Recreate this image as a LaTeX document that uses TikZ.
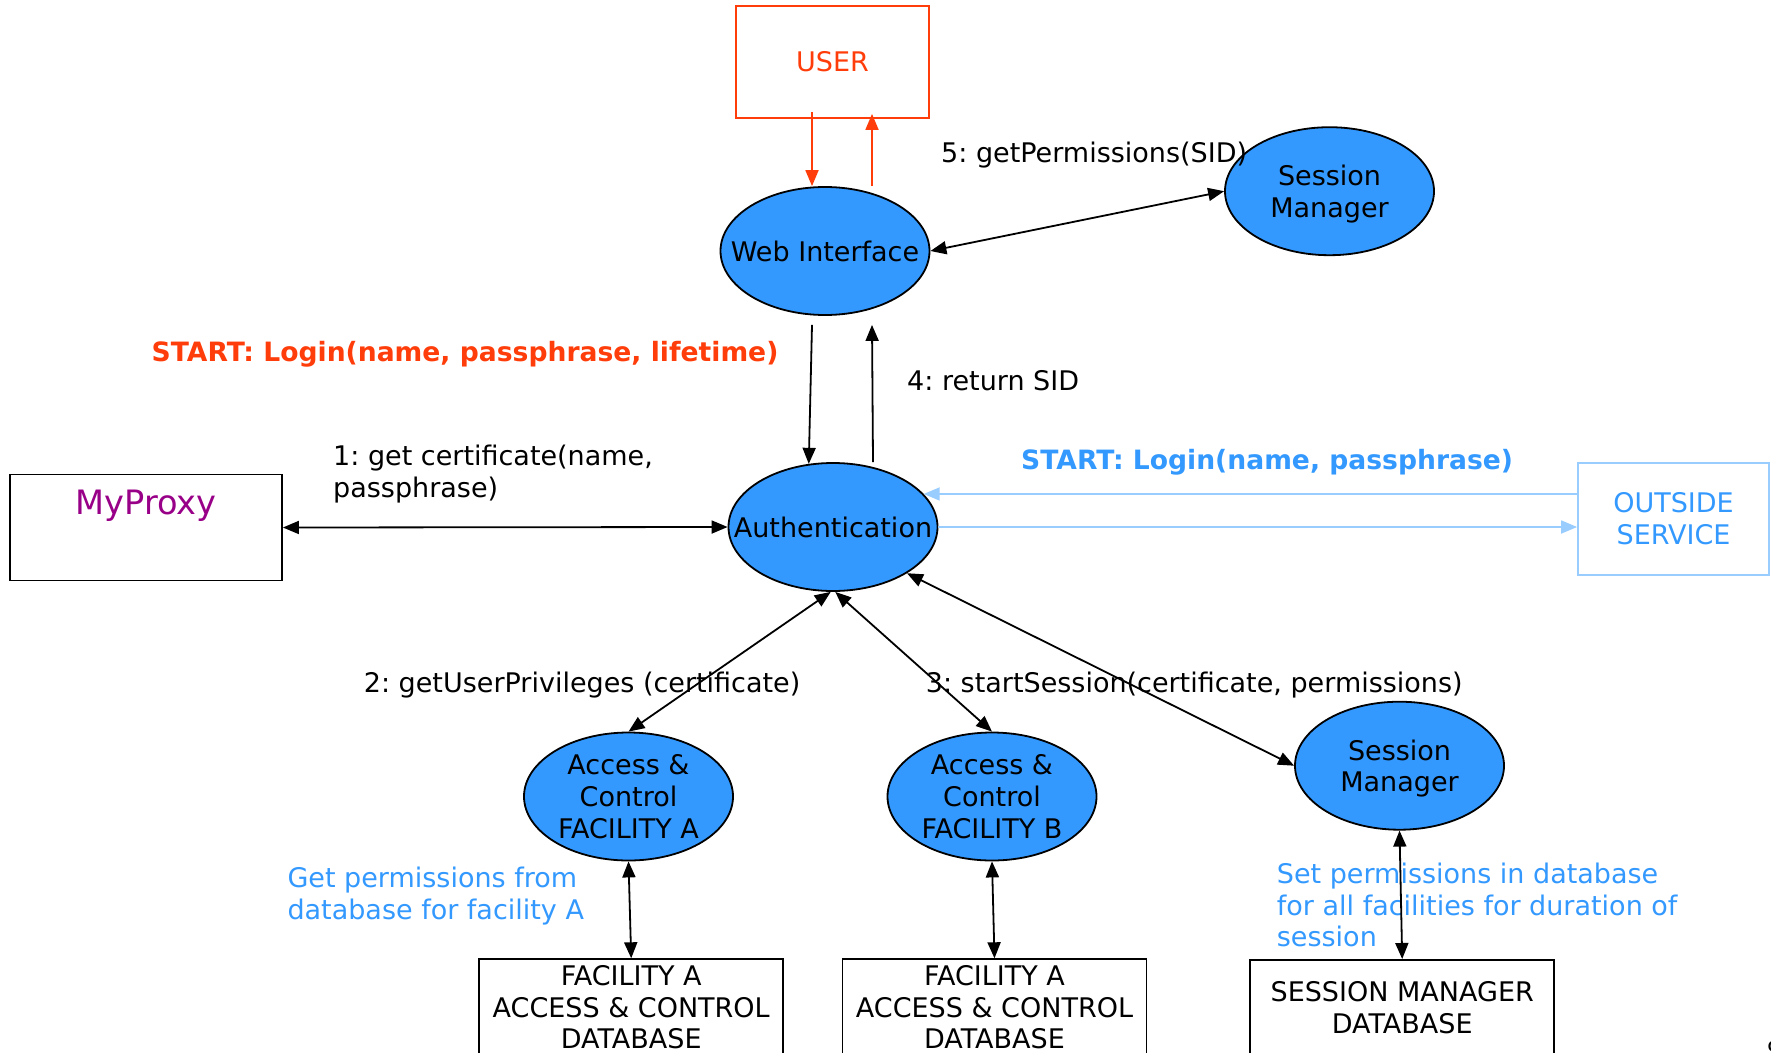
\documentclass[tikz,border=0pt]{standalone}
\usepackage{fontspec}
\setmainfont{DejaVu Sans}
\usetikzlibrary{arrows.meta,shapes.geometric}
\definecolor{nodeblue}{RGB}{51,153,255}
\definecolor{userred}{RGB}{255,61,10}
\definecolor{proxypurple}{RGB}{153,0,136}
\definecolor{paleblue}{RGB}{153,204,255}
\definecolor{noteblue}{RGB}{51,153,255}
\frenchspacing
\tikzset{
  basefont/.style={font=\fontsize{27}{31.7}\selectfont},
  boldfont/.style={font=\fontsize{26.6}{31.7}\selectfont\bfseries},
  proc/.style={ellipse, draw=black, line width=1.8pt, fill=nodeblue,
    minimum width=209pt, minimum height=128pt, inner sep=0pt, text depth=0pt,
    align=center, basefont},
  store/.style={rectangle, draw=black, line width=1.8pt, minimum width=304pt,
    inner xsep=0pt, align=center, anchor=north, basefont},
  lbl/.style={anchor=base west, inner sep=0pt, align=left, basefont},
  blocklbl/.style={anchor=north west, inner sep=0pt, align=left, basefont},
  link/.style={line width=1.8pt, {Triangle[length=16pt,width=13pt]}-{Triangle[length=16pt,width=13pt]}},
  onearrow/.style={line width=1.8pt, -{Triangle[length=16pt,width=13pt]}},
  redarrow/.style={draw=userred, line width=1.8pt, -{Triangle[length=16pt,width=13pt]}},
  palearrow/.style={draw=paleblue, line width=1.8pt, -{Triangle[length=16pt,width=13pt]}},
}
\begin{document}
\begin{tikzpicture}[x=1pt,y=-1pt]
\useasboundingbox (0,0) rectangle (1771,1052);
\fill[white] (0,0) rectangle (1771,1052);
\clip (0,0) rectangle (1771,1052);

% actors and services
\node[rectangle, draw=userred, line width=1.8pt, minimum width=193pt, minimum height=112pt,
  text=userred, basefont] (user) at (832.5,62) {USER};
\node[proc] (web) at (825,251) {\makebox[0pt]{Web Interface}};
\node[proc] (smtop) at (1329.5,191.2) {Session\\Manager};
\node[proc] (auth) at (833,527) {\makebox[0pt]{Authentication}};
\node[proc] (acca) at (628.5,796.5) {Access \&\\Control\\FACILITY A};
\node[proc] (accb) at (992,796.5) {Access \&\\Control\\FACILITY B};
\node[proc] (smbot) at (1399.5,765.7) {Session\\Manager};

\node[rectangle, draw=black, line width=1.8pt, minimum width=272pt, minimum height=106pt] (myproxy) at (146,527.5) {};
\node[anchor=base, inner sep=0pt, text=proxypurple, font=\fontsize{33.6}{40}\selectfont] (myproxytext) at (146,514.3) {MyProxy};

\node[rectangle, draw=paleblue, line width=1.8pt, minimum width=191pt, minimum height=112pt,
  text=noteblue, align=center, basefont] (outside) at (1673.5,519) {OUTSIDE\\SERVICE};

% databases
\node[store, inner ysep=6.3pt] (dba) at (631.2,958.3) {FACILITY A\\ACCESS \& CONTROL\\DATABASE};
\node[store, inner ysep=6.3pt] (dbb) at (994.5,958.3) {FACILITY A\\ACCESS \& CONTROL\\DATABASE};
\node[store, inner ysep=22pt] (smdb) at (1402.2,959) {SESSION MANAGER\\DATABASE};

% message labels
\node[lbl] (l5) at (941,162.7) {5: getPermissions(SID)};
\node[lbl] (l4) at (907,390.3) {4: return SID};
\node[blocklbl] (l1) at (333,445.2) {1: get certificate(name,\\passphrase)};
\node[lbl, boldfont, text=userred] (startred) at (151.5,361.7) {START: Login(name, passphrase, lifetime)};
\node[lbl, boldfont, text=noteblue] (startblue) at (1021,469.3) {START: Login(name, passphrase)};
\node[lbl] (l2) at (363.7,692.3) {2: getUserPrivileges (certificate)};
\node[lbl] (l3) at (925.7,692) {3: startSession(certificate, permissions)};
\node[blocklbl, text=noteblue] (notea) at (287.3,866.8) {Get permissions from\\database for facility A};
\node[blocklbl, text=noteblue] (notesm) at (1276.7,862.8) {Set permissions in database\\for all facilities for duration of\\session};
\node[anchor=north west, inner sep=0pt, font=\fontsize{22}{26}\selectfont] (pagenum) at (1767,1040.7) {9};

% connectors
\draw[redarrow] ([xshift=-20.5pt,yshift=7pt]user.south) -- ([xshift=-13pt]web.north);
\draw[redarrow] ([xshift=47pt]web.north) -- ([xshift=39.5pt,yshift=5pt]user.south);
\draw[link] (web.east) -- (smtop.west);
\draw[onearrow] ([xshift=-13pt,yshift=-9pt]web.south) -- (auth.111);
\draw[onearrow] ([xshift=40pt]auth.north) -- ([xshift=47pt,yshift=-9pt]web.south);
\draw[link] (myproxy.east) -- (auth.west);
\draw[palearrow] (outside.west |- auth.20) -- (auth.20);
\draw[palearrow] (auth.east) -- (auth.east -| outside.west);
\draw[link] (auth.268) -- (acca.north);
\draw[link] (auth.272) -- (accb.north);
\draw[link] (auth.328) -- (smbot.west);
\draw[link] (acca.south) -- (dba.north);
\draw[link] (accb.south) -- (dbb.north);
\draw[link] (smbot.south) -- (smdb.north);
\end{tikzpicture}
\end{document}
